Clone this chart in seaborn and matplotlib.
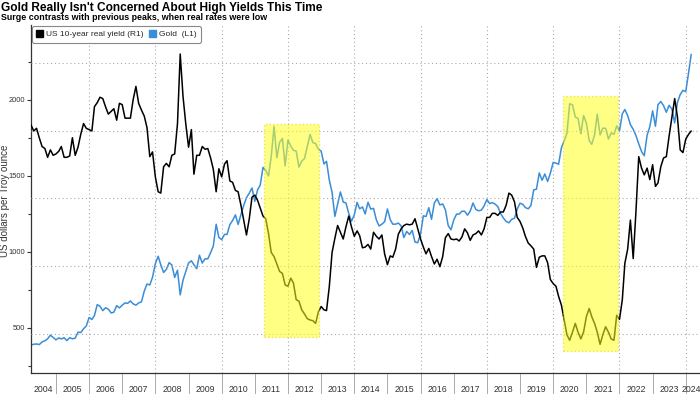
import pandas as pd
import seaborn as sns
import matplotlib.pyplot as plt
import matplotlib.dates as mdates
from matplotlib.patches import Rectangle, Patch


# ==========================
# DATA (monthly, Apr 2004 - Mar 2024)
# ==========================

months = pd.date_range("2004-04-01", periods=240, freq="MS")

# Gold, US$ per troy ounce (left axis, L1)
gold = [
    388, 393, 395, 391, 408, 416, 429, 453, 438,
    422, 435, 428, 436, 417, 436, 429, 433, 473, 470, 495, 513,
    569, 556, 582, 654, 643, 614, 633, 624, 599, 604, 647, 632,
    650, 665, 662, 678, 659, 650, 665, 672, 743, 789, 783, 834,
    923, 972, 916, 865, 886, 930, 914, 833, 880, 718, 815, 870,
    928, 942, 916, 890, 979, 927, 955, 955, 996, 1040, 1182, 1096,
    1081, 1116, 1115, 1180, 1207, 1244, 1181, 1246, 1307, 1357, 1387, 1421,
    1333, 1410, 1439, 1556, 1536, 1500, 1628, 1826, 1620, 1722, 1746, 1566,
    1737, 1697, 1669, 1664, 1558, 1598, 1614, 1692, 1773, 1720, 1713, 1676,
    1663, 1579, 1596, 1472, 1393, 1234, 1313, 1395, 1328, 1323, 1253, 1202,
    1244, 1326, 1284, 1296, 1250, 1327, 1282, 1287, 1211, 1171, 1183, 1199,
    1283, 1213, 1183, 1183, 1190, 1172, 1095, 1135, 1115, 1142, 1065, 1061,
    1118, 1238, 1233, 1291, 1215, 1322, 1351, 1309, 1316, 1277, 1173, 1146,
    1211, 1249, 1249, 1268, 1268, 1242, 1269, 1322, 1280, 1271, 1275, 1303,
    1345, 1318, 1325, 1315, 1299, 1253, 1224, 1201, 1192, 1215, 1222, 1282,
    1321, 1313, 1292, 1284, 1305, 1409, 1413, 1520, 1472, 1513, 1464, 1517,
    1589, 1585, 1577, 1686, 1730, 1781, 1975, 1968, 1887, 1879, 1777, 1898,
    1847, 1734, 1708, 1769, 1907, 1770, 1814, 1814, 1743, 1783, 1774, 1829,
    1797, 1909, 1937, 1897, 1838, 1807, 1766, 1711, 1661, 1633, 1768, 1824,
    1928, 1827, 1969, 1990, 1963, 1919, 1965, 1940, 1849, 1983, 2036, 2063,
    2055, 2178, 2300,
]

# US 10-year real yield, % (right axis, R1)
real_yield = [
    2.09, 2.00, 2.04, 1.90, 1.77, 1.74, 1.61, 1.72, 1.64,
    1.66, 1.70, 1.77, 1.61, 1.61, 1.63, 1.90, 1.64, 1.76, 1.95, 2.11, 2.04,
    2.02, 2.00, 2.36, 2.42, 2.50, 2.48, 2.36, 2.25, 2.29, 2.33, 2.16, 2.41,
    2.39, 2.19, 2.19, 2.19, 2.46, 2.66, 2.41, 2.31, 2.22, 2.05, 1.62, 1.69,
    1.32, 1.10, 1.08, 1.47, 1.52, 1.47, 1.64, 1.66, 2.11, 3.14, 2.51, 2.11,
    1.76, 2.02, 1.36, 1.64, 1.64, 1.77, 1.73, 1.74, 1.60, 1.43, 1.10, 1.44,
    1.32, 1.51, 1.56, 1.26, 1.24, 1.12, 1.10, 0.90, 0.68, 0.46, 0.70, 1.02,
    1.05, 0.97, 0.86, 0.74, 0.70, 0.48, 0.20, 0.14, 0.03, -0.08, -0.11, -0.28,
    -0.30, -0.18, -0.25, -0.50, -0.52, -0.65, -0.71, -0.78, -0.80, -0.81, -0.85, -0.68,
    -0.60, -0.65, -0.66, -0.30, 0.20, 0.41, 0.60, 0.50, 0.40, 0.58, 0.74, 0.58,
    0.44, 0.52, 0.45, 0.27, 0.28, 0.32, 0.25, 0.50, 0.44, 0.40, 0.46, 0.18,
    0.02, 0.15, 0.13, 0.25, 0.47, 0.55, 0.60, 0.62, 0.61, 0.62, 0.70, 0.55,
    0.40, 0.28, 0.18, 0.26, 0.14, 0.03, 0.10, -0.01, 0.14, 0.42, 0.48, 0.40,
    0.39, 0.40, 0.37, 0.43, 0.55, 0.49, 0.38, 0.46, 0.48, 0.52, 0.46, 0.55,
    0.72, 0.72, 0.78, 0.78, 0.75, 0.80, 0.80, 0.90, 1.08, 1.05, 0.95, 0.72,
    0.66, 0.56, 0.44, 0.34, 0.30, 0.25, -0.02, 0.13, 0.15, 0.15, 0.05, -0.20,
    -0.26, -0.30, -0.45, -0.58, -0.80, -1.02, -1.10, -0.98, -0.85, -0.98, -1.08, -0.98,
    -0.75, -0.63, -0.75, -0.85, -0.98, -1.16, -1.02, -0.90, -0.98, -1.08, -1.10, -0.73,
    -0.79, -0.50, 0.04, 0.25, 0.68, 0.11, 0.80, 1.62, 1.45, 1.35, 1.45, 1.28,
    1.50, 1.18, 1.23, 1.47, 1.60, 1.62, 1.92, 2.20, 2.48, 2.21, 1.72, 1.68,
    1.88, 1.95, 2.00,
]

years = list(range(2004, 2025))
grid_years = list(range(2006, 2025, 2))

# highlighted low real-rate periods (start, end, gold low, gold high)
box_starts = ["2011-04-11", "2020-04-19"]
box_ends = ["2012-12-09", "2021-12-16"]
box_lows = [441, 349]
box_highs = [1842, 2026]

df = pd.DataFrame({"date": months, "gold": gold, "real_yield": real_yield})

GOLD_COLOR = "#3a8dd8"
FONTS = ["Liberation Sans Narrow", "Liberation Sans", "DejaVu Sans"]

sns.set_theme(style="white")
plt.rcParams["font.family"] = FONTS


# ==========================
# FIGURE
# ==========================

W, H = 700, 394
fig = plt.figure(figsize=(W / 100, H / 100), dpi=100)
ax = fig.add_axes([31 / W, 21 / H, 672 / W, 348 / H])
ax2 = ax.twinx()

sns.lineplot(data=df, x="date", y="gold", ax=ax, color=GOLD_COLOR, lw=1.1)
sns.lineplot(data=df, x="date", y="real_yield", ax=ax2, color="black", lw=1.1)

x0 = pd.Timestamp("2004-04-01")
x1 = x0 + pd.Timedelta(days=7404)
x_visible = x0 + pd.Timedelta(days=7330)   # right edge of the picture
ax.set_xlim(x0, x1)
ax.set_ylim(204, 2493)
ax2.set_ylim(-1.585, 3.57)

# left axis ticks
ax.set_yticks([500, 1000, 1500, 2000])
ax.set_yticks([250, 750, 1250, 1750, 2250], minor=True)
ax.tick_params(axis="y", which="major", length=3, width=0.8, color="#333333",
               labelsize=5.4, labelcolor="#333333", pad=1, left=True)
ax.tick_params(axis="y", which="minor", length=2, width=0.8, color="#333333", left=True)
ax.set_ylabel("")
ax.set_xlabel("")

# year separators below the axis, labels in the middle of each year
ax.set_xticks([pd.Timestamp(f"{y}-01-01") for y in years[1:]])
ax.tick_params(axis="x", which="major", length=22, width=0.7, color="#aaaaaa",
               labelbottom=False, bottom=True)
label_pos = []
for y in years:
    a = max(pd.Timestamp(f"{y}-01-01"), x0)
    b = min(pd.Timestamp(f"{y + 1}-01-01"), x_visible)
    label_pos.append(a + (b - a) / 2)
ax.set_xticks(label_pos, minor=True)
ax.set_xticklabels([str(y) for y in years], minor=True)
ax.tick_params(axis="x", which="minor", length=0, labelsize=6.3,
               labelcolor="#333333", pad=9)

for y in grid_years:
    ax.axvline(pd.Timestamp(f"{y}-01-01"), color="#aaaaaa", lw=0.8,
               ls=(0, (1, 2.5)), zorder=0)

# right axis: only its dotted gridlines show
ax2.set_yticks([-1, 0, 1, 2, 3])
ax2.yaxis.grid(True, color="#aaaaaa", lw=0.8, ls=(0, (1, 2.5)))
ax2.tick_params(axis="y", right=False, labelright=False)
ax2.set_ylabel("")

for s in ["top", "right"]:
    ax.spines[s].set_visible(False)
for s in ["left", "bottom"]:
    ax.spines[s].set_color("#333333")
    ax.spines[s].set_linewidth(0.9)
for s in ax2.spines.values():
    s.set_visible(False)

# yellow highlight boxes (drawn over the lines)
for start, end, lo, hi in zip(box_starts, box_ends, box_lows, box_highs):
    xa = mdates.date2num(pd.Timestamp(start))
    xb = mdates.date2num(pd.Timestamp(end))
    ax2.add_patch(Rectangle((xa, lo), xb - xa, hi - lo, transform=ax.transData,
                            facecolor="#ffff20", alpha=0.55, edgecolor="#d8d000",
                            ls=":", lw=1.0, zorder=5))

# legend
handles = [Patch(facecolor="black", edgecolor="black"),
           Patch(facecolor=GOLD_COLOR, edgecolor=GOLD_COLOR)]
leg = ax2.legend(handles, ["US 10-year real yield (R1)", "Gold  (L1)"],
                 loc="upper left", bbox_to_anchor=(0.0, 1.0), ncol=2,
                 fontsize=6.0, frameon=True, fancybox=True, framealpha=1,
                 edgecolor="#888888", handlelength=0.8, handleheight=0.8,
                 handletextpad=0.35, columnspacing=0.7, borderpad=0.5,
                 borderaxespad=0.15)
leg.get_frame().set_linewidth(0.8)
leg.set_zorder(10)

# titles and axis label
fig.text(0.001, 1 - 11 / H, "Gold Really Isn't Concerned About High Yields This Time",
         fontsize=8.6, fontweight="bold", va="baseline", ha="left", color="black")
fig.text(0.001, 1 - 19.5 / H, "Surge contrasts with previous peaks, when real rates were low",
         fontsize=6.4, fontweight="bold", va="baseline", ha="left", color="black")
fig.text(0.0065, 1 - 201 / H, "US dollars per Troy ounce", rotation=90,
         fontsize=7, color="#333333", va="center", ha="center")

fig.savefig("out.png", dpi=100)
